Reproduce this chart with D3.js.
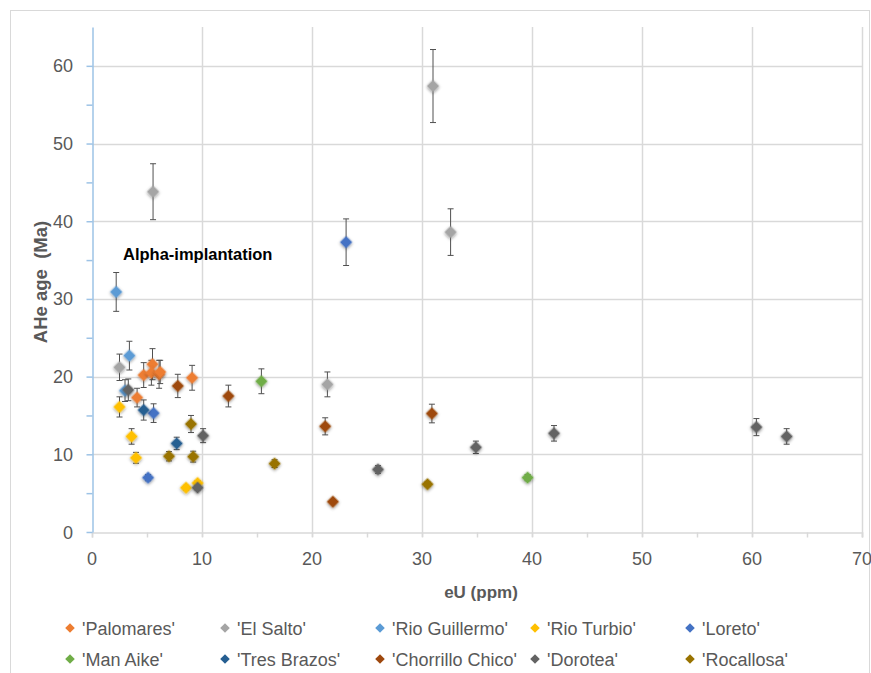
<!DOCTYPE html>
<html>
<head>
<meta charset="utf-8">
<script src="https://cdn.jsdelivr.net/npm/d3@7"></script>
<style>
  body { margin: 0; background: #fff; }
  text { font-family: "Liberation Sans", Arial, sans-serif; }
</style>
</head>
<body>
<svg id="chart" width="871" height="673"></svg>
<script>
// series names and colours
var seriesNames = ["'Palomares'", "'El Salto'", "'Rio Guillermo'", "'Rio Turbio'", "'Loreto'",
	"'Man Aike'", "'Tres Brazos'", "'Chorrillo Chico'", "'Dorotea'", "'Rocallosa'"];
var seriesColors = ['#ED7D31', '#A5A5A5', '#5B9BD5', '#FFC000', '#4472C4',
	'#70AD47', '#255E91', '#9E480E', '#636363', '#997300'];

// each point: [eU (ppm), AHe age (Ma), error (Ma)]
var palomares = [[4.7,20.2,1.6],[5.5,21.6,2.0],[5.4,20.5,1.6],[6.1,20.3,1.8],[6.2,20.6,1.5],[9.1,19.85,1.6],[4.1,17.3,1.2]];
var elSalto = [[2.5,21.2,1.7],[5.55,43.8,3.6],[21.4,19.0,1.6],[31.0,57.4,4.7],[32.6,38.6,3.0]];
var rioGuillermo = [[2.2,30.9,2.5],[3.4,22.7,1.85],[3.0,18.2,1.4]];
var rioTurbio = [[2.5,16.1,1.3],[3.6,12.3,1.0],[4.0,9.55,0.7],[8.55,5.7,0.3],[9.6,6.3,0.3]];
var loreto = [[5.6,15.3,1.2],[5.1,7.0,0.4],[23.1,37.3,3.0]];
var manAike = [[15.4,19.4,1.6],[39.6,7.0,0.4]];
var tresBrazos = [[4.7,15.7,1.3],[7.7,11.4,0.8]];
var chorrilloChico = [[7.8,18.8,1.5],[12.4,17.5,1.4],[21.2,13.6,1.1],[30.9,15.25,1.2],[21.9,3.9,0.2]];
var dorotea = [[3.3,18.3,1.4],[10.1,12.4,0.9],[9.6,5.7,0.3],[26.0,8.05,0.5],[34.9,10.9,0.8],[42.0,12.7,1.0],[60.4,13.5,1.1],[63.15,12.3,1.0]];
var rocallosa = [[9.0,13.9,1.1],[7.0,9.75,0.6],[9.2,9.7,0.7],[16.6,8.8,0.5],[30.5,6.15,0.3]];

var seriesData = [palomares, elSalto, rioGuillermo, rioTurbio, loreto, manAike, tresBrazos, chorrilloChico, dorotea, rocallosa];

var xTicks = [0,10,20,30,40,50,60,70];
var yTicks = [0,10,20,30,40,50,60];

var svg = d3.select('#chart');
var margin = {left: 92, right: 10, top: 27, bottom: 141};
var width = +svg.attr('width'), height = +svg.attr('height');

// outer chart border
svg.append('rect')
	.attr('x', 10.5).attr('y', 10.5)
	.attr('width', 859).attr('height', 700)
	.attr('fill', 'none').attr('stroke', '#d9d9d9');

var x = d3.scaleLinear().domain([0,70]).range([margin.left, 862]);
var y = d3.scaleLinear().domain([0,65]).range([532, margin.top]);

var defs = svg.append('defs');
var f = defs.append('filter').attr('id', 'shadow')
	.attr('x', '-50%').attr('y', '-50%').attr('width', '200%').attr('height', '200%');
f.append('feDropShadow').attr('dx', 0.8).attr('dy', 0.8).attr('stdDeviation', 1.4)
	.attr('flood-color', '#000').attr('flood-opacity', 0.45);

// gridlines
svg.append('g').selectAll('line').data(yTicks.filter(d => d > 0)).enter().append('line')
	.attr('x1', x(0)).attr('x2', x(70))
	.attr('y1', d => Math.round(y(d)) + 0.5).attr('y2', d => Math.round(y(d)) + 0.5)
	.attr('stroke', '#d9d9d9').attr('stroke-width', 1.5);
svg.append('g').selectAll('line').data(xTicks.filter(d => d > 0)).enter().append('line')
	.attr('y1', y(65)).attr('y2', y(0) + 5)
	.attr('x1', d => Math.round(x(d)) + 0.5).attr('x2', d => Math.round(x(d)) + 0.5)
	.attr('stroke', '#d9d9d9').attr('stroke-width', 1.5);

// x axis
var xAxis = d3.axisBottom(x).tickValues(d3.range(0, 71, 5)).tickSize(5).tickFormat('');
var gx = svg.append('g').attr('transform', 'translate(0,' + (Math.round(y(0)) + 0.5) + ')').call(xAxis);
gx.selectAll('path,line').attr('stroke', '#d9d9d9').attr('stroke-width', 1.5);
svg.append('g').selectAll('text').data(xTicks).enter().append('text')
	.attr('x', d => x(d)).attr('y', 565)
	.attr('text-anchor', 'middle').attr('font-size', 18).attr('fill', '#595959')
	.text(d => d);

// y axis
var yAxis = d3.axisLeft(y).tickValues(d3.range(0, 61, 5)).tickSize(6).tickSizeOuter(0).tickFormat('');
var gy = svg.append('g').attr('transform', 'translate(' + (Math.round(x(0)) + 0.5) + ',0)').call(yAxis);
gy.selectAll('path,line').attr('stroke', '#9DC3E6').attr('stroke-width', 1.5);
svg.append('g').selectAll('text').data(yTicks).enter().append('text')
	.attr('x', 73).attr('y', d => y(d) + 6.5)
	.attr('text-anchor', 'end').attr('font-size', 18).attr('fill', '#595959')
	.text(d => d);

// axis titles
svg.append('text')
	.attr('transform', 'translate(47,282) rotate(-90)')
	.attr('text-anchor', 'middle').attr('font-size', 18.5).attr('font-weight', 'bold').attr('fill', '#595959')
	.attr('xml:space', 'preserve')
	.text('AHe age  (Ma)');
svg.append('text')
	.attr('x', 481).attr('y', 598)
	.attr('text-anchor', 'middle').attr('font-size', 17).attr('font-weight', 'bold').attr('fill', '#595959')
	.text('eU (ppm)');

// annotation
svg.append('text')
	.attr('x', 123).attr('y', 260)
	.attr('font-size', 16.5).attr('font-weight', 'bold').attr('fill', '#000')
	.text('Alpha-implantation');

var diamond = d3.symbol().type(d3.symbolSquare).size(76);

seriesData.forEach(function(pts, i) {
	var g = svg.append('g');
	// error bars
	var eb = g.selectAll('g.eb').data(pts).enter().append('g')
		.attr('stroke', '#505050').attr('stroke-width', 1);
	eb.append('line')
		.attr('x1', d => x(d[0])).attr('x2', d => x(d[0]))
		.attr('y1', d => y(d[1] + d[2])).attr('y2', d => y(d[1] - d[2]));
	eb.append('line')
		.attr('x1', d => x(d[0]) - 3).attr('x2', d => x(d[0]) + 3)
		.attr('y1', d => y(d[1] + d[2])).attr('y2', d => y(d[1] + d[2]));
	eb.append('line')
		.attr('x1', d => x(d[0]) - 3).attr('x2', d => x(d[0]) + 3)
		.attr('y1', d => y(d[1] - d[2])).attr('y2', d => y(d[1] - d[2]));
	// markers
	g.selectAll('path.m').data(pts).enter().append('path')
		.attr('d', diamond)
		.attr('transform', d => 'translate(' + x(d[0]) + ',' + y(d[1]) + ') rotate(45)')
		.attr('fill', seriesColors[i])
		.attr('filter', 'url(#shadow)');
});

// legend
var legendCols = [70, 225, 380, 535, 690];
var legendRows = [628, 659];
var lg = svg.append('g').selectAll('g').data(seriesNames).enter().append('g')
	.attr('transform', (d, i) => 'translate(' + legendCols[i % 5] + ',' + legendRows[Math.floor(i / 5)] + ')');
lg.append('path')
	.attr('d', d3.symbol().type(d3.symbolSquare).size(46))
	.attr('transform', 'rotate(45)')
	.attr('fill', (d, i) => seriesColors[i]);
lg.append('text')
	.attr('x', 12).attr('y', 6.5)
	.attr('font-size', 18).attr('fill', '#595959')
	.text(d => d);
</script>
</body>
</html>
